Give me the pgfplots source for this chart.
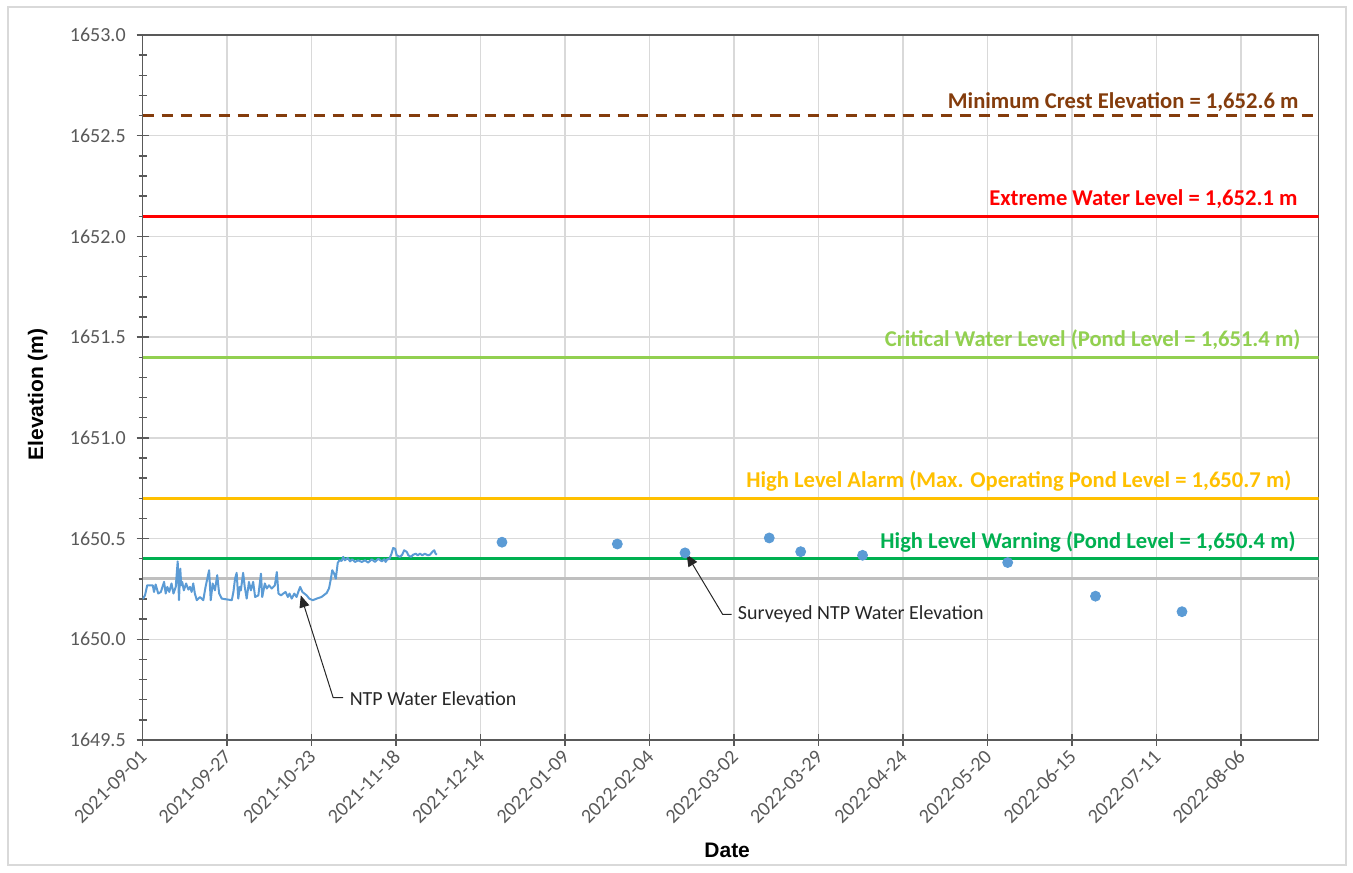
\documentclass[border=0pt]{standalone}
\usepackage{pgfplots}
\pgfplotsset{compat=1.18}
\usepackage{fontspec}
\setmainfont{Carlito}
\newfontfamily\arial{Liberation Sans}
\usetikzlibrary{arrows.meta}
\definecolor{ntpblue}{HTML}{5B9BD5}
\definecolor{crestbrown}{HTML}{843C0C}
\definecolor{extremered}{HTML}{FF0000}
\definecolor{critgreen}{HTML}{92D050}
\definecolor{alarmgold}{HTML}{FFC000}
\definecolor{warngreen}{HTML}{00B050}
\definecolor{axisgray}{HTML}{595959}
\definecolor{gridgray}{HTML}{D9D9D9}
\definecolor{normgray}{HTML}{BFBFBF}
\definecolor{labelgray}{HTML}{595959}
\definecolor{textdark}{HTML}{262626}
\definecolor{framegray}{HTML}{D9D9D9}
\begin{document}
\begin{tikzpicture}
\useasboundingbox (0pt,0pt) rectangle (676.5pt,436pt);
\draw[framegray, line width=0.6pt] (4pt,3.5pt) rectangle (673pt,432.5pt);
\begin{axis}[
  at={(71.35pt,66pt)}, anchor=south west,
  width=588pt, height=352.5pt, scale only axis,
  xmin=0, xmax=363, ymin=1649.5, ymax=1653,
  xtick={0,26.08,52.15,78.23,104.31,130.38,156.46,182.54,208.62,234.69,260.77,286.85,312.92,339},
  xticklabels={2021-09-01,2021-09-27,2021-10-23,2021-11-18,2021-12-14,2022-01-09,2022-02-04,2022-03-02,2022-03-29,2022-04-24,2022-05-20,2022-06-15,2022-07-11,2022-08-06},
  ytick={1649.5,1650,1650.5,1651,1651.5,1652,1652.5,1653},
  minor y tick num=4,
  tick pos=left,
  /pgf/number format/fixed, /pgf/number format/fixed zerofill, /pgf/number format/precision=1,
  /pgf/number format/1000 sep={}, /pgf/number format/assume math mode=true,
  ticklabel style={font=\fontsize{10}{12}\selectfont, text=labelgray},
  xticklabel style={rotate=45, anchor=east, xshift=1pt, yshift=-3pt},
  yticklabel style={xshift=-2pt},
  axis line style={draw=axisgray, line width=0.75pt},
  tick style={draw=axisgray, line width=0.75pt},
  tick align=center,
  major tick length=6pt, minor tick length=4pt,
  grid=major,
  major grid style={draw=gridgray, line width=0.75pt},
  xlabel={Date},
  ylabel={Elevation (m)},
  xlabel style={font=\arial\bfseries\fontsize{10.5}{12}\selectfont, at={(axis description cs:0.497,-0.156)}, anchor=center},
  ylabel style={font=\arial\bfseries\fontsize{10.5}{12}\selectfont, at={(axis description cs:-0.0893,0.49)}, anchor=center},
  clip=true,
]
% reference lines
\addplot[normgray, line width=1.4pt] coordinates {(0,1650.3) (363,1650.3)};
\addplot[crestbrown, line width=1.4pt, dash pattern=on 5.5pt off 4pt] coordinates {(0,1652.6) (363,1652.6)};
\addplot[extremered, line width=1.4pt] coordinates {(0,1652.1) (363,1652.1)};
\addplot[critgreen, line width=1.4pt] coordinates {(0,1651.4) (363,1651.4)};
\addplot[alarmgold, line width=1.4pt] coordinates {(0,1650.7) (363,1650.7)};
\addplot[warngreen, line width=1.4pt] coordinates {(0,1650.4) (363,1650.4)};
% NTP water elevation
\addplot[ntpblue, line width=1pt, line join=round] coordinates {
(0,1650.200) (0.7,1650.218) (1.4,1650.268) (3.1,1650.268) (3.5,1650.235) (4.0,1650.272)
(4.8,1650.227) (5.6,1650.235) (6.6,1650.285) (7.1,1650.227) (7.6,1650.260) (8.2,1650.235)
(8.9,1650.277) (9.5,1650.227) (10.2,1650.260) (10.8,1650.387) (11.2,1650.194) (11.6,1650.351)
(11.9,1650.268) (12.2,1650.285) (12.7,1650.243) (13.4,1650.277) (14.1,1650.247) (14.6,1650.260)
(15.1,1650.235) (15.6,1650.277) (16.1,1650.227) (16.7,1650.194) (17.7,1650.210) (18.7,1650.194)
(19.4,1650.260) (20.5,1650.343) (21.0,1650.194) (21.6,1650.277) (22.3,1650.243) (23.0,1650.318)
(23.6,1650.227) (24.4,1650.202) (27.5,1650.194) (28.0,1650.235) (28.5,1650.300) (29.0,1650.330)
(29.5,1650.202) (30.0,1650.260) (30.3,1650.243) (31.0,1650.330) (31.5,1650.260) (32.1,1650.202)
(32.8,1650.285) (33.4,1650.243) (34.1,1650.285) (34.7,1650.210) (35.7,1650.218) (36.5,1650.326)
(36.9,1650.210) (37.7,1650.277) (38.3,1650.252) (39.0,1650.268) (39.8,1650.252) (40.8,1650.268)
(41.4,1650.334) (41.9,1650.227) (42.7,1650.218) (43.4,1650.227) (44.1,1650.235) (44.8,1650.210)
(45.3,1650.227) (46.0,1650.202) (46.8,1650.227) (47.5,1650.210) (48.2,1650.243) (48.6,1650.260)
(49.3,1650.235) (49.9,1650.227) (50.6,1650.218) (51.4,1650.202) (52.5,1650.194) (53.7,1650.202)
(55.2,1650.210) (56.8,1650.230) (57.5,1650.252) (58.1,1650.301) (58.5,1650.343) (59.1,1650.326)
(59.6,1650.301) (60.2,1650.379) (60.7,1650.392) (61.4,1650.389) (61.9,1650.409) (62.4,1650.392)
(63.3,1650.404) (64.0,1650.387) (64.7,1650.397) (65.5,1650.384) (66.5,1650.392) (67.6,1650.384)
(68.6,1650.392) (69.6,1650.381) (70.7,1650.397) (71.7,1650.384) (72.7,1650.400) (73.8,1650.387)
(74.6,1650.397) (75.0,1650.384) (75.6,1650.400) (76.1,1650.397) (76.8,1650.425) (77.3,1650.453)
(77.9,1650.450) (78.4,1650.417) (79.4,1650.409) (80.1,1650.420) (80.7,1650.442) (81.5,1650.434)
(82.0,1650.417) (82.8,1650.409) (83.5,1650.420) (84.3,1650.425) (84.9,1650.417) (85.6,1650.425)
(86.3,1650.417) (87.1,1650.425) (88.0,1650.417) (88.7,1650.420) (89.4,1650.434) (90.0,1650.442)
(90.4,1650.425) (90.8,1650.420)
};
% Surveyed NTP water elevation
\addplot[only marks, mark=*, mark size=2.5pt, mark options={fill=ntpblue, draw=ntpblue}] coordinates {
(110.9,1650.482) (146.5,1650.473) (167.4,1650.429) (193.4,1650.503) (203.1,1650.435)
(222.2,1650.417) (267.0,1650.381) (294.1,1650.214) (320.8,1650.137)
};
% line labels
\node[anchor=base east, inner sep=0pt, yshift=3.3pt, text=crestbrown, font=\bfseries\fontsize{11.3}{13}\selectfont] at (axis cs:356.9,1652.6) {Minimum Crest Elevation = 1,652.6 m};
\node[anchor=base east, inner sep=0pt, yshift=5.5pt, text=extremered, font=\bfseries\fontsize{11.3}{13}\selectfont] at (axis cs:356.6,1652.1) {Extreme Water Level = 1,652.1 m};
\node[anchor=base east, inner sep=0pt, yshift=5.5pt, text=critgreen, font=\bfseries\fontsize{11.3}{13}\selectfont] at (axis cs:357.5,1651.4) {Critical Water Level (Pond Level = 1,651.4 m)};
\node[anchor=base east, inner sep=0pt, yshift=5.5pt, text=alarmgold, font=\bfseries\fontsize{11.3}{13}\selectfont] at (axis cs:354.7,1650.7) {High Level Alarm (Max. Operating Pond Level = 1,650.7 m)};
\node[anchor=base east, inner sep=0pt, yshift=5pt, text=warngreen, font=\bfseries\fontsize{11.3}{13}\selectfont] at (axis cs:356.0,1650.4) {High Level Warning (Pond Level = 1,650.4 m)};
% callouts
\draw[textdark, line width=0.5pt, -{Triangle[length=6pt,width=5pt]}] (axis cs:61.9,1649.71) -- (axis cs:58.8,1649.71) -- (axis cs:48.8,1650.218);
\node[anchor=west, inner sep=0pt, text=textdark, font=\fontsize{10}{12}\selectfont] at (axis cs:63.8,1649.707) {NTP Water Elevation};
\draw[textdark, line width=0.5pt, -{Triangle[length=6pt,width=5pt]}] (axis cs:181.8,1650.124) -- (axis cs:179.0,1650.124) -- (axis cs:167.9,1650.422);
\node[anchor=west, inner sep=0pt, text=textdark, font=\fontsize{10}{12}\selectfont] at (axis cs:183.6,1650.124) {Surveyed NTP Water Elevation};
\end{axis}
\end{tikzpicture}
\end{document}
